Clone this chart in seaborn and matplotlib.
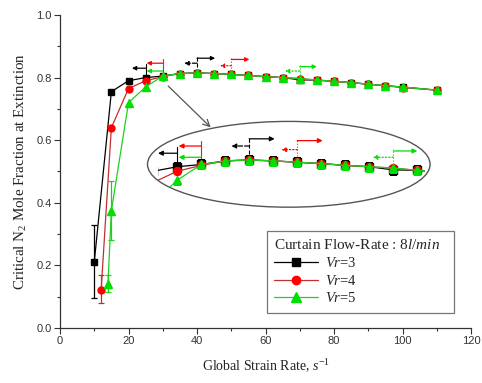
import matplotlib
matplotlib.use("Agg")
import matplotlib.pyplot as plt
from matplotlib.patches import Ellipse
from matplotlib.lines import Line2D
import seaborn as sns
import pandas as pd
import numpy as np

sns.set_theme(style="ticks")
plt.rcParams['font.family'] = ['Liberation Serif', 'DejaVu Serif']
plt.rcParams['mathtext.fontset'] = 'custom'
plt.rcParams['mathtext.rm'] = 'Liberation Serif'
plt.rcParams['mathtext.it'] = 'Liberation Serif:italic'

# ---- data ----
common_x = [30, 35, 40, 45, 50, 55, 60, 65, 70, 75, 80, 85, 90, 95, 100, 110]
x_vr3 = [10, 15, 20, 25] + common_x
y_vr3 = [0.21, 0.755, 0.79, 0.80, 0.805, 0.813, 0.815, 0.813, 0.810, 0.807,
         0.803, 0.800, 0.793, 0.792, 0.788, 0.784, 0.779, 0.774, 0.770, 0.760]
x_vr4 = [12, 15, 20, 25] + common_x
y_vr4 = [0.12, 0.64, 0.765, 0.79, 0.803, 0.813, 0.815, 0.813, 0.810, 0.807,
         0.803, 0.800, 0.797, 0.792, 0.788, 0.784, 0.779, 0.774, 0.768, 0.760]
x_vr5 = [14, 15, 20, 25] + common_x
y_vr5 = [0.14, 0.375, 0.72, 0.77, 0.805, 0.813, 0.815, 0.813, 0.810, 0.807,
         0.803, 0.800, 0.797, 0.792, 0.788, 0.784, 0.779, 0.774, 0.770, 0.760]

# error bars (x, lower, upper)
err_vr3 = [(10, 0.095, 0.33)]
err_vr4 = [(12, 0.08, 0.17)]
err_vr5 = [(14, 0.115, 0.17), (15, 0.28, 0.47)]

# extinction-limit arrows: (x_start, x_end, y, linestyle)
arrows_vr3 = [(25, 21.0, 0.830, '-'), (40, 36.3, 0.846, '--'), (40, 45.3, 0.862, '-')]
arrows_vr4 = [(30, 25.3, 0.846, '-'), (50, 46.7, 0.838, ':'), (50, 55.3, 0.858, '-')]
arrows_vr5 = [(30, 25.3, 0.821, '-'), (70, 65.7, 0.821, ':'), (70, 75.0, 0.835, '-')]
# vertical marker lines: (x, y0, y1, linestyle)
vlines_vr3 = [(25, 0.80, 0.843, '-'), (40, 0.815, 0.865, '--')]
vlines_vr4 = [(30, 0.805, 0.858, '-'), (50, 0.81, 0.862, ':')]
vlines_vr5 = [(70, 0.80, 0.840, ':')]

labels = ['3', '4', '5']
colors = ['black', '#ff0000', '#00e000']
line_colors = ['black', '#c03030', '#20d020']
markers = ['s', 'o', '^']
msizes = [4.5, 5, 5.5]

df = pd.concat([
    pd.DataFrame({'x': x_vr3, 'y': y_vr3, 'Vr': labels[0]}),
    pd.DataFrame({'x': x_vr4, 'y': y_vr4, 'Vr': labels[1]}),
    pd.DataFrame({'x': x_vr5, 'y': y_vr5, 'Vr': labels[2]}),
])
errs = [err_vr3, err_vr4, err_vr5]
arrows = [arrows_vr3, arrows_vr4, arrows_vr5]
vlines = [vlines_vr3, vlines_vr4, vlines_vr5]

fig = plt.figure(figsize=(4.82, 3.83), dpi=100)
ax = fig.add_axes([60/482, 1-328/383, 411/482, 313/383])


def draw_series(a, lw=0.9, ms_scale=1.0, head=6):
    for i, lab in enumerate(labels):
        sub = df[df['Vr'] == lab]
        sns.lineplot(data=sub, x='x', y='y', ax=a, color=line_colors[i],
                     lw=lw, legend=False, sort=False, zorder=2 + i)
        a.plot(sub['x'], sub['y'], ls='none', marker=markers[i],
               ms=msizes[i] * ms_scale, color=colors[i], mec=colors[i],
               zorder=3 + i)
    for i in range(3):
        for (xs, xe, yy, ls) in arrows[i]:
            a.annotate('', xy=(xe, yy), xytext=(xs, yy),
                       arrowprops=dict(arrowstyle='-|>', color=colors[i],
                                       lw=0.9, ls=ls, mutation_scale=head,
                                       shrinkA=0, shrinkB=0))
        for (xv, y0, y1, ls) in vlines[i]:
            a.plot([xv, xv], [y0, y1], color=line_colors[i], lw=0.8, ls=ls)
    return a


draw_series(ax)
for i in range(3):
    for (xe, lo, hi) in errs[i]:
        ax.errorbar([xe], [(lo + hi) / 2], yerr=[[(hi - lo) / 2], [(hi - lo) / 2]],
                    fmt='none', ecolor=line_colors[i], elinewidth=0.9,
                    capsize=2.5, capthick=0.9, zorder=1)

# ellipse and pointer arrow
ell = Ellipse((66.8, 0.523), 82.5, 0.274, fill=False, ec='#555555', lw=1.0, zorder=6)
ax.add_patch(ell)
ax.annotate('', xy=(44.0, 0.641), xytext=(31.6, 0.773),
            arrowprops=dict(arrowstyle='->', color='#555555', lw=0.9,
                            mutation_scale=12, shrinkA=0, shrinkB=0))

# inset (magnified view)
ins = fig.add_axes([158/482, 1-205/383, 267/482, 80/383])
ins.patch.set_alpha(0)
draw_series(ins, lw=0.9, ms_scale=1.15, head=7)
ins.set_xlim(21.0, 76.6)
ins.set_ylim(0.715, 0.8927)
ins.axis('off')
for art in ins.lines:
    art.set_clip_path(ell)

ax.set_xlim(0, 120)
ax.set_ylim(0, 1.0)
ax.set_xticks(np.arange(0, 121, 20))
ax.set_xticks(np.arange(10, 120, 20), minor=True)
ax.set_yticks(np.arange(0, 1.01, 0.2))
ax.set_yticks(np.arange(0.1, 1.0, 0.2), minor=True)
ax.set_yticklabels([f'{v:.1f}' for v in np.arange(0, 1.01, 0.2)])
ax.tick_params(axis='both', which='major', direction='out', length=4, width=0.8,
               labelsize=8, labelcolor='#333333', color='#333333', pad=2)
ax.tick_params(axis='both', which='minor', direction='out', length=2.5, width=0.8,
               color='#333333')
for lbl in ax.get_xticklabels() + ax.get_yticklabels():
    lbl.set_family(['Liberation Sans', 'DejaVu Sans'])
sns.despine(ax=ax)
for s in ['left', 'bottom']:
    ax.spines[s].set_color('#333333')
    ax.spines[s].set_linewidth(0.9)

ax.set_xlabel(r'Global Strain Rate, $\mathit{s}^{\mathit{-1}}$', fontsize=10, color='#222222', labelpad=8)
ax.set_ylabel(r'Critical N$_2$ Mole Fraction at Extinction', fontsize=10.8, color='#222222', labelpad=5)

handles = [Line2D([], [], color=line_colors[i], lw=0.9, marker=markers[i],
                  ms=msizes[i] + 1, mfc=colors[i], mec=colors[i]) for i in range(3)]
leg = ax.legend(handles, [r'$\mathit{Vr}$=' + l for l in labels],
                title=r'Curtain Flow-Rate : 8$\mathit{l/min}$',
                loc='lower left', bbox_to_anchor=(0.503, 0.049, 0.456, 0.27),
                mode='expand', borderaxespad=0, fontsize=10.5, title_fontsize=11,
                frameon=True, fancybox=False, edgecolor='#555555', handlelength=3.0,
                borderpad=0.5, labelspacing=0.25, handletextpad=0.5)
leg.get_frame().set_linewidth(0.9)
leg._legend_box.align = 'left'

fig.savefig('out.png', dpi=100)
